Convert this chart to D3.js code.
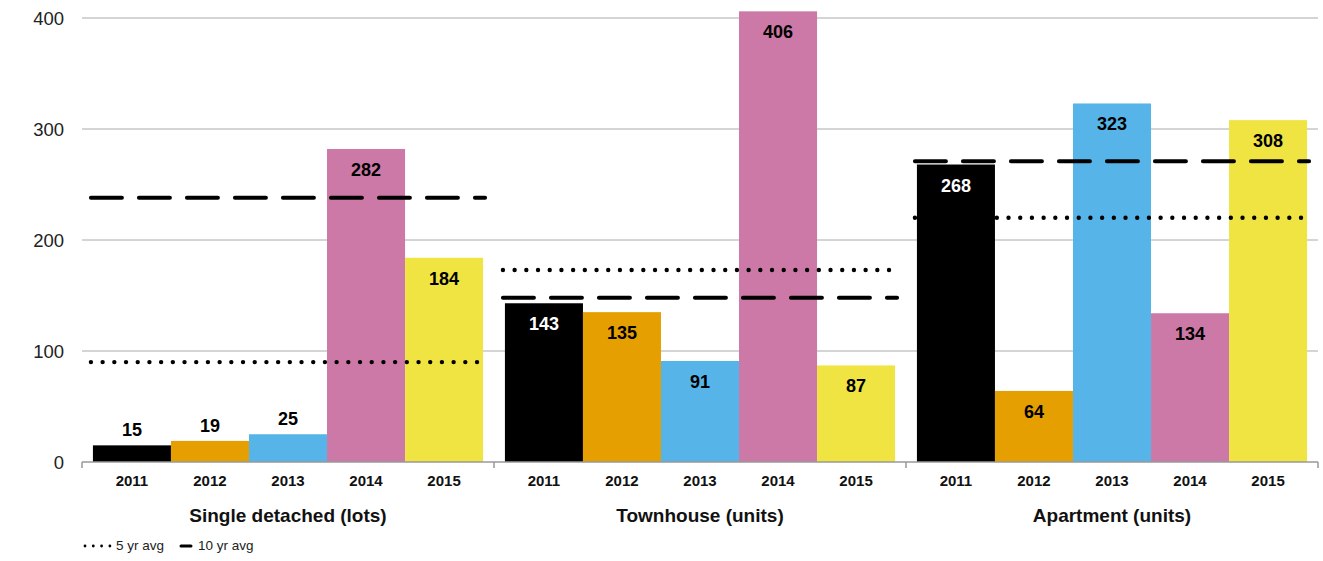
<!DOCTYPE html>
<html>
<head>
<meta charset="utf-8">
<script src="https://cdn.jsdelivr.net/npm/d3@7"></script>
<style>
  body { margin: 0; background: #fff; }
  text { font-family: "Liberation Sans", Arial, Helvetica, sans-serif; }
</style>
</head>
<body>
<div id="chart"></div>
<script>
const categories = ["Single detached (lots)", "Townhouse (units)", "Apartment (units)"];
const years = ["2011", "2012", "2013", "2014", "2015"];
const values = [
  [15, 19, 25, 282, 184],
  [143, 135, 91, 406, 87],
  [268, 64, 323, 134, 308],
];
const avg5 = [90, 173, 220];
const avg10 = [238, 148, 271];
const yTicks = [0, 100, 200, 300, 400];
const colors = ["#000000", "#E69F00", "#56B4E9", "#CC79A7", "#F0E442"];

const width = 1323, height = 561;
const plotLeft = 82, plotRight = 1318, plotTop = 18, plotBottom = 462;

const svg = d3.select("#chart").append("svg")
  .attr("width", width).attr("height", height);

const x0 = d3.scaleBand().domain(categories).range([plotLeft, plotRight]).padding(0);
const x1 = d3.scaleBand().domain(years).range([0, x0.bandwidth()])
  .paddingInner(0).paddingOuter(0.14);
const y = d3.scaleLinear().domain([0, 400]).range([plotBottom, plotTop]);

// grid
svg.append("g").selectAll("line").data(yTicks.filter((d) => d > 0)).join("line")
  .attr("x1", plotLeft).attr("x2", plotRight)
  .attr("y1", (d) => y(d)).attr("y2", (d) => y(d))
  .attr("stroke", "#aaa").attr("stroke-width", 1);

// y labels
svg.append("g").selectAll("text").data(yTicks).join("text")
  .attr("x", 64).attr("y", (d) => y(d) + 7)
  .attr("text-anchor", "end").attr("font-size", 18.5).attr("fill", "#222")
  .text((d) => d);

// bars
const groups = svg.append("g").selectAll("g").data(categories).join("g")
  .attr("transform", (c) => `translate(${x0(c)},0)`);

groups.each(function (c, gi) {
  const g = d3.select(this);
  const rows = years.map((yr, i) => ({ yr, v: values[gi][i], i }));
  g.selectAll("rect").data(rows).join("rect")
    .attr("x", (d) => x1(d.yr))
    .attr("y", (d) => y(d.v))
    .attr("width", x1.bandwidth())
    .attr("height", (d) => plotBottom - y(d.v))
    .attr("fill", (d) => colors[d.i]);

  g.selectAll("text.val").data(rows).join("text")
    .attr("class", "val")
    .attr("x", (d) => x1(d.yr) + x1.bandwidth() / 2)
    .attr("y", (d) => (d.v < 40 ? y(d.v) - 9 : y(d.v) + 27))
    .attr("text-anchor", "middle")
    .attr("font-size", 18).attr("font-weight", "bold")
    .attr("fill", (d) => (d.i === 0 && d.v >= 40 ? "#fff" : "#000"))
    .text((d) => d.v);

  const lx1 = x1(years[0]) - 2;
  const lx2 = x1(years[years.length - 1]) + x1.bandwidth() + 2;

  g.append("line")
    .attr("x1", lx1).attr("x2", lx2)
    .attr("y1", y(avg5[gi])).attr("y2", y(avg5[gi]))
    .attr("stroke", "#000").attr("stroke-width", 4.4)
    .attr("stroke-linecap", "round").attr("stroke-dasharray", "0 11.7");

  g.append("line")
    .attr("x1", lx1).attr("x2", lx2)
    .attr("y1", y(avg10[gi])).attr("y2", y(avg10[gi]))
    .attr("stroke", "#000").attr("stroke-width", 4)
    .attr("stroke-linecap", "round").attr("stroke-dasharray", "31 17");

  g.selectAll("text.yr").data(years).join("text")
    .attr("class", "yr")
    .attr("x", (d) => x1(d) + x1.bandwidth() / 2)
    .attr("y", 486)
    .attr("text-anchor", "middle")
    .attr("font-size", 15).attr("font-weight", "bold").attr("fill", "#111")
    .text((d) => d);

  g.append("text")
    .attr("x", x0.bandwidth() / 2).attr("y", 522)
    .attr("text-anchor", "middle")
    .attr("font-size", 19).attr("font-weight", "bold").attr("fill", "#111")
    .text(c);
});

// x axis
svg.append("line")
  .attr("x1", plotLeft).attr("x2", plotRight).attr("y1", plotBottom).attr("y2", plotBottom)
  .attr("stroke", "#999").attr("stroke-width", 1.5);
svg.append("g").selectAll("line").data(categories.concat(["end"])).join("line")
  .attr("x1", (d) => (d === "end" ? plotRight : x0(d)))
  .attr("x2", (d) => (d === "end" ? plotRight : x0(d)))
  .attr("y1", plotBottom).attr("y2", plotBottom + 6)
  .attr("stroke", "#999").attr("stroke-width", 1.5);

// legend
const lg = svg.append("g");
lg.append("line").attr("x1", 85).attr("x2", 111).attr("y1", 546).attr("y2", 546)
  .attr("stroke", "#000").attr("stroke-width", 2.8)
  .attr("stroke-linecap", "round").attr("stroke-dasharray", "0 8.3");
lg.append("text").attr("x", 116).attr("y", 550).attr("font-size", 13.5).attr("fill", "#222")
  .text("5 yr avg");
lg.append("line").attr("x1", 181).attr("x2", 191).attr("y1", 546).attr("y2", 546)
  .attr("stroke", "#000").attr("stroke-width", 3).attr("stroke-linecap", "round");
lg.append("text").attr("x", 198).attr("y", 550).attr("font-size", 13.5).attr("fill", "#222")
  .text("10 yr avg");
</script>
</body>
</html>
